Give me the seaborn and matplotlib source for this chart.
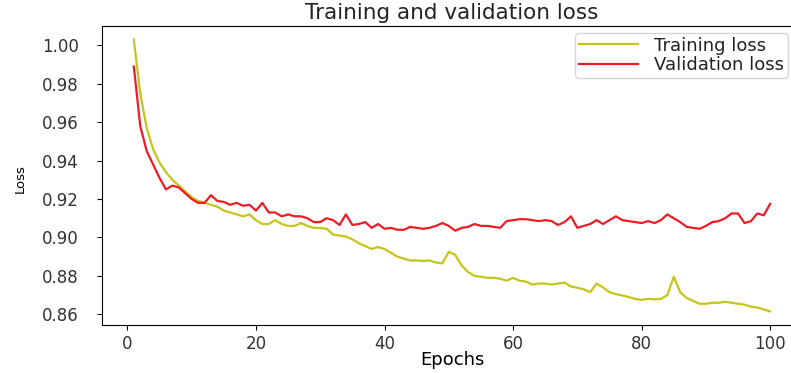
import numpy as np
import pandas as pd
import matplotlib
matplotlib.use("Agg")
import matplotlib.pyplot as plt
import seaborn as sns

epochs = list(range(1, 101))

training_loss = [
    1.003, 0.975, 0.957, 0.946, 0.939, 0.934, 0.930, 0.927, 0.924, 0.921,
    0.919, 0.918, 0.917, 0.916, 0.914, 0.913, 0.912, 0.911, 0.912, 0.909,
    0.907, 0.907, 0.909, 0.907, 0.906, 0.906, 0.9075, 0.906, 0.905, 0.905,
    0.9045, 0.9015, 0.901, 0.9005, 0.899, 0.897, 0.8955, 0.894, 0.895, 0.894,
    0.892, 0.890, 0.889, 0.888, 0.888, 0.8878, 0.888, 0.887, 0.8865, 0.8925,
    0.891, 0.8855, 0.882, 0.880, 0.8795, 0.879, 0.879, 0.8785, 0.8775, 0.879,
    0.8775, 0.877, 0.8755, 0.876, 0.876, 0.8755, 0.876, 0.8765, 0.8745, 0.8738,
    0.873, 0.8715, 0.876, 0.874, 0.8715, 0.8705, 0.8698, 0.869, 0.868, 0.8675,
    0.868, 0.8678, 0.868, 0.870, 0.8795, 0.8715, 0.8685, 0.867, 0.8655, 0.8655,
    0.866, 0.866, 0.8665, 0.866, 0.8655, 0.865, 0.864, 0.8635, 0.8625, 0.8615,
]

validation_loss = [
    0.989, 0.958, 0.945, 0.938, 0.931, 0.925, 0.927, 0.926, 0.923, 0.920,
    0.918, 0.918, 0.922, 0.919, 0.9185, 0.917, 0.918, 0.9165, 0.917, 0.914,
    0.918, 0.913, 0.913, 0.911, 0.912, 0.911, 0.911, 0.910, 0.908, 0.908,
    0.910, 0.909, 0.9065, 0.912, 0.9065, 0.907, 0.908, 0.905, 0.907, 0.9045,
    0.905, 0.904, 0.904, 0.9055, 0.905, 0.9045, 0.905, 0.906, 0.9075, 0.906,
    0.9035, 0.905, 0.9055, 0.907, 0.906, 0.906, 0.9055, 0.905, 0.9085, 0.909,
    0.9095, 0.9095, 0.909, 0.9085, 0.909, 0.9085, 0.9065, 0.908, 0.911, 0.905,
    0.906, 0.907, 0.909, 0.907, 0.909, 0.911, 0.909, 0.9085, 0.908, 0.9075,
    0.9085, 0.9075, 0.909, 0.912, 0.910, 0.908, 0.9055, 0.905, 0.9045, 0.906,
    0.908, 0.9085, 0.910, 0.9125, 0.9125, 0.9075, 0.9085, 0.9125, 0.9115, 0.9175,
]

series_names = ["Training loss", "Validation loss"]
series_colors = ["#c4c41a", "#ee1c24"]

x_ticks = [0, 20, 40, 60, 80, 100]
y_ticks = [0.86, 0.88, 0.90, 0.92, 0.94, 0.96, 0.98, 1.00]

df = pd.DataFrame({
    "Epochs": epochs * 2,
    "Loss": training_loss + validation_loss,
    "series": [series_names[0]] * len(epochs) + [series_names[1]] * len(epochs),
})

plt.rcParams["font.family"] = ["DejaVu Sans"]
plt.rcParams["text.color"] = "#222222"
plt.rcParams["xtick.labelcolor"] = "#333333"
plt.rcParams["ytick.labelcolor"] = "#333333"

W, H = 791, 373
fig = plt.figure(figsize=(W / 100, H / 100), dpi=100)
ax_left, ax_right, ax_top, ax_bottom = 102, 802, 26, 325
ax = fig.add_axes([ax_left / W, 1 - ax_bottom / H,
                   (ax_right - ax_left) / W, (ax_bottom - ax_top) / H])

sns.lineplot(data=df, x="Epochs", y="Loss", hue="series",
             palette=dict(zip(series_names, series_colors)),
             linewidth=1.6, ax=ax, legend=True)

ax.set_title("Training and validation loss", fontsize=15.5, pad=5)
ax.set_xlabel("Epochs", fontsize=13, labelpad=-1)
ax.set_ylabel("Loss", fontsize=9.5)
ax.yaxis.set_label_coords((27 - ax_left) / (ax_right - ax_left), 0.49)
ax.set_xticks(x_ticks)
ax.set_yticks(y_ticks)
ax.set_yticklabels([f"{v:.2f}" for v in y_ticks])
ax.xaxis.set_tick_params(labelsize=12)
ax.yaxis.set_tick_params(labelsize=12, pad=13)
ax.set_xlim(-3.95, 104.95)

leg = ax.legend(loc="upper right", fontsize=13, frameon=True,
                bbox_to_anchor=((788 - ax_left) / (ax_right - ax_left),
                                1 - (33 - ax_top) / (ax_bottom - ax_top)),
                borderaxespad=0, handlelength=3.3, handletextpad=0.9,
                borderpad=0.2, labelspacing=0.1)
leg.set_title(None)

fig.savefig("out.png", dpi=100)
